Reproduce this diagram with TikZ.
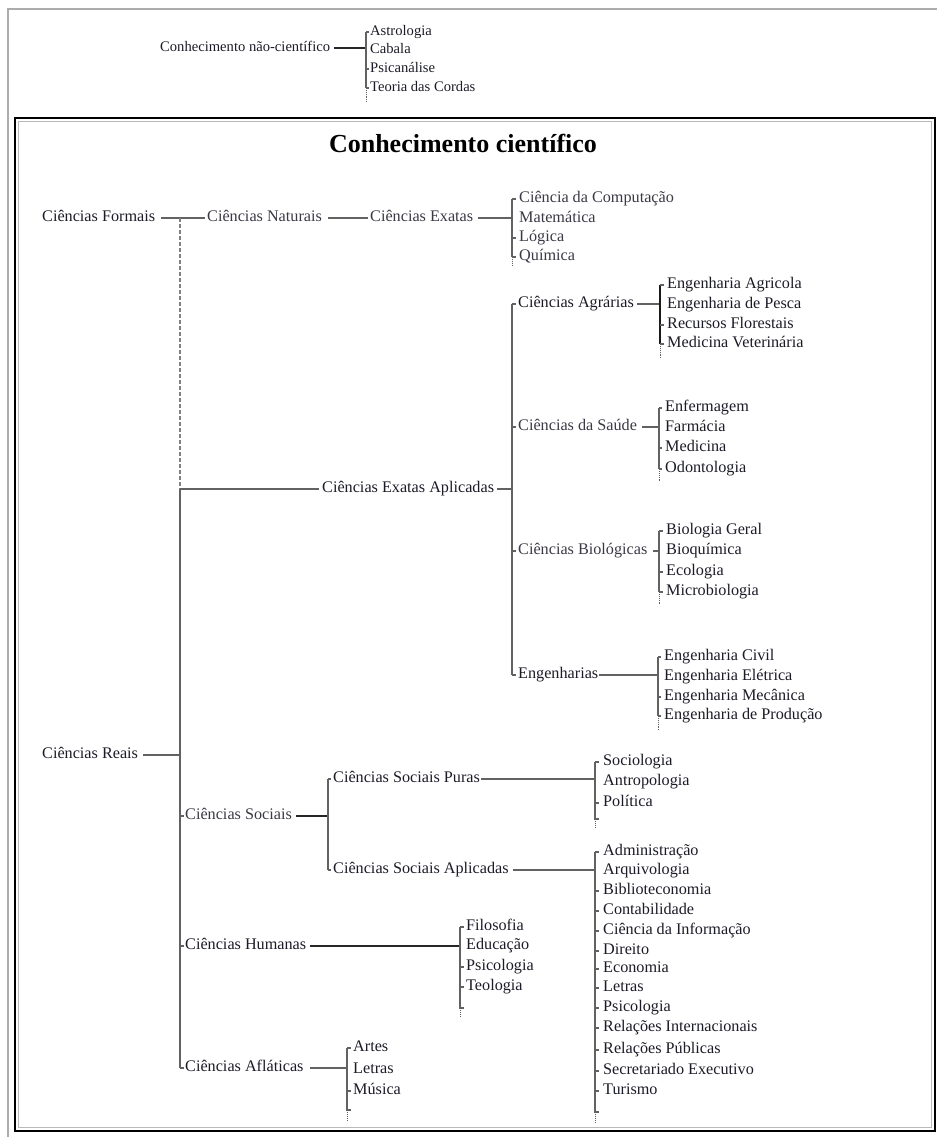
\documentclass[tikz,border=0pt]{standalone}
\usepackage{fontspec}
\setmainfont{Liberation Serif}
\definecolor{ink}{HTML}{1C1C28}
\definecolor{soft}{HTML}{3A3A46}
\definecolor{linegray}{HTML}{626262}
% short ticks from a bracket line to each of its item nodes
\newcommand\twig[3]{%
  \foreach \n in {#2} \draw[brace] (#1 |- \n.west) -- ([xshift=-#3]\n.west);}
\begin{document}
\begin{tikzpicture}[x=1pt,y=-1pt,
  lbl/.style={anchor=west,inner sep=0pt,text height=10.5pt,text depth=3pt,
    font=\fontsize{16.2}{18}\selectfont,text=ink},
  lite/.style={lbl,text=soft},
  small/.style={lbl,font=\fontsize{14.6}{17}\selectfont,text height=9.5pt},
  link/.style={draw=linegray,line width=1.1pt},
  heavy/.style={draw=black!85,line width=2pt},
  brace/.style={draw=linegray,line width=1.1pt},
  darkbrace/.style={draw=black!90,line width=1.4pt},
  tail/.style={draw=linegray,line width=0.9pt,densely dotted},
  spinedash/.style={draw=linegray!80,line width=1.1pt,dash pattern=on 4pt off 2pt}]
\useasboundingbox (0,0) rectangle (937,1137);
\fill[white] (0,0) rectangle (937,1137);

% frames
\draw[gray!65,line width=1.5pt] (8,1137) -- (8,9) -- (937,9);
\draw[black,line width=2.6pt] (15,118) rectangle (935,1131);
\draw[gray!55,line width=0.8pt] (18.5,121.5) rectangle (931.5,1127.5);

% ---------- non-scientific knowledge ----------
\node[small] (nc) at (160,48) {Conhecimento não-científico};
\coordinate (bN) at (366,48);
\draw[heavy] ([xshift=4pt]nc.east) -- (bN |- nc.east);
\node[small] (n1) at (370,32) {Astrologia};
\node[small] (n2) at (370,50) {Cabala};
\node[small] (n3) at (370,69) {Psicanálise};
\node[small] (n4) at (370,88) {Teoria das Cordas};
\draw[brace] (bN |- n1.west) -- (bN |- n4.west);
\draw[tail] (bN |- n4.west) -- ++(0,14);
\twig{bN}{n1,n3,n4}{1.5pt}

% ---------- scientific knowledge ----------
\node[font=\bfseries\fontsize{26}{30}\selectfont,text=black,inner sep=0pt] (title) at (463,143) {Conhecimento científico};

% first row
\node[lbl] (form) at (42,218) {Ciências Formais};
\node[lite] (nat) at (207,218) {Ciências Naturais};
\node[lite] (exa) at (370,218) {Ciências Exatas};
\draw[link] ([xshift=6pt]form.east) -- ([xshift=-2pt]nat.west);
\draw[link] ([xshift=6pt]nat.east) -- ([xshift=-2pt]exa.west);
\coordinate (bE) at (512,218);
\draw[link] ([xshift=5pt]exa.east) -- (bE |- exa.east);
\node[lite] (cc)  at (519,199) {Ciência da Computação};
\node[lite] (mat) at (519,219) {Matemática};
\node[lite] (log) at (519,238) {Lógica};
\node[lite] (qui) at (519,257) {Química};
\draw[brace] (bE |- cc.west) -- (bE |- qui.west);
\draw[tail] (bE |- qui.west) -- ++(0,9);
\twig{bE}{cc,log,qui}{3pt}

% main spine
\coordinate (sp0) at (180,218);
\coordinate (sp1) at (180,489);
\coordinate (sp2) at (180,1068);
\draw[spinedash] (sp0) -- (sp1);
\draw[link] (sp1) -- (sp2);
\node[lbl] (reais) at (42,755) {Ciências Reais};
\draw[link] ([xshift=5pt]reais.east) -- (sp0 |- reais.west);

% applied exact sciences
\node[lbl] (eap) at (322,489) {Ciências Exatas Aplicadas};
\draw[link] (sp1) -- ([xshift=-3pt]eap.west);
\coordinate (bA) at (512,489);
\draw[link] ([xshift=3pt]eap.east) -- (bA |- eap.east);
\node[lbl] (agr) at (518,304) {Ciências Agrárias};
\node[lite] (sau) at (518,427) {Ciências da Saúde};
\node[lite] (bio) at (518,551) {Ciências Biológicas};
\node[lbl] (eng) at (518,675) {Engenharias};
\draw[brace] (bA |- agr.west) -- (bA |- eng.west);
\twig{bA}{agr,sau,bio,eng}{2pt}

% agrarian sciences
\coordinate (bG) at (660,304);
\draw[link] ([xshift=3pt]agr.east) -- (bG |- agr.east);
\node[lbl] (g1) at (667,285) {Engenharia Agricola};
\node[lbl] (g2) at (667,305) {Engenharia de Pesca};
\node[lbl] (g3) at (667,325) {Recursos Florestais};
\node[lbl] (g4) at (667,344) {Medicina Veterinária};
\draw[darkbrace] (bG |- g1.west) -- (bG |- g4.west);
\draw[tail] (bG |- g4.west) -- ++(0,14);
\twig{bG}{g1,g3,g4}{3pt}

% health sciences
\coordinate (bS) at (659,427);
\draw[link] ([xshift=5pt]sau.east) -- (bS |- sau.east);
\node[lbl] (s1) at (665,408) {Enfermagem};
\node[lbl] (s2) at (665,428) {Farmácia};
\node[lbl] (s3) at (665,448) {Medicina};
\node[lbl] (s4) at (665,469) {Odontologia};
\draw[brace] (bS |- s1.west) -- (bS |- s4.west);
\draw[tail] (bS |- s4.west) -- ++(0,12);
\twig{bS}{s1,s3,s4}{3pt}

% biological sciences
\coordinate (bB) at (659,551);
\draw[link] ([xshift=5pt]bio.east) -- (bB |- bio.east);
\node[lbl] (b1) at (666,531) {Biologia Geral};
\node[lbl] (b2) at (666,551) {Bioquímica};
\node[lbl] (b3) at (666,572) {Ecologia};
\node[lbl] (b4) at (666,592) {Microbiologia};
\draw[brace] (bB |- b1.west) -- (bB |- b4.west);
\draw[tail] (bB |- b4.west) -- ++(0,12);
\twig{bB}{b1,b3,b4}{3pt}

% engineering
\coordinate (bR) at (658,675);
\draw[link] ([xshift=1pt]eng.east) -- (bR |- eng.east);
\node[lbl] (e1) at (664,657) {Engenharia Civil};
\node[lbl] (e2) at (664,677) {Engenharia Elétrica};
\node[lbl] (e3) at (664,697) {Engenharia Mecânica};
\node[lbl] (e4) at (664,716) {Engenharia de Produção};
\draw[brace] (bR |- e1.west) -- (bR |- e4.west);
\draw[tail] (bR |- e4.west) -- ++(0,14);
\twig{bR}{e1,e3,e4}{3pt}

% social sciences
\node[lite] (soc) at (185,816) {Ciências Sociais};
\draw[brace] (sp0 |- soc.west) -- ([xshift=-1pt]soc.west);
\coordinate (bC) at (328,816);
\draw[heavy] ([xshift=4pt]soc.east) -- (bC |- soc.east);
\node[lbl] (scp) at (333,779) {Ciências Sociais Puras};
\node[lbl] (sca) at (333,870) {Ciências Sociais Aplicadas};
\draw[brace] (bC |- scp.west) -- (bC |- sca.west);
\twig{bC}{scp,sca}{2pt}

\coordinate (bP) at (595,779);
\draw[link] ([xshift=1pt]scp.east) -- (bP |- scp.east);
\node[lbl] (p1) at (603,762) {Sociologia};
\node[lbl] (p2) at (603,782) {Antropologia};
\node[lbl] (p3) at (603,803) {Política};
\coordinate (pEnd) at (595,819);
\draw[brace] (bP |- p1.west) -- (pEnd) -- ++(4,0);
\draw[tail] (pEnd) -- ++(0,9);
\twig{bP}{p1,p3}{4pt}

\coordinate (bQ) at (595,870);
\draw[link] ([xshift=4pt]sca.east) -- (bQ |- sca.east);
\node[lbl] (q1)  at (603,852)  {Administração};
\node[lbl] (q2)  at (603,871)  {Arquivologia};
\node[lbl] (q3)  at (603,891)  {Biblioteconomia};
\node[lbl] (q4)  at (603,911)  {Contabilidade};
\node[lbl] (q5)  at (603,931)  {Ciência da Informação};
\node[lbl] (q6)  at (603,951)  {Direito};
\node[lbl] (q7)  at (603,969)  {Economia};
\node[lbl] (q8)  at (603,988)  {Letras};
\node[lbl] (q9)  at (603,1008) {Psicologia};
\node[lbl] (q10) at (603,1028) {Relações Internacionais};
\node[lbl] (q11) at (603,1050) {Relações Públicas};
\node[lbl] (q12) at (603,1071) {Secretariado Executivo};
\node[lbl] (q13) at (603,1091) {Turismo};
\coordinate (qEnd) at (595,1112);
\draw[brace] (bQ |- q1.west) -- (qEnd) -- ++(4,0);
\draw[tail] (qEnd) -- ++(0,10);
\twig{bQ}{q1,q3,q4,q5,q6,q7,q8,q9,q10,q11,q12,q13}{4pt}

% human sciences
\node[lbl] (hum) at (185,946) {Ciências Humanas};
\draw[brace] (sp0 |- hum.west) -- ([xshift=-1pt]hum.west);
\coordinate (bH) at (460,946);
\draw[heavy] ([xshift=4pt]hum.east) -- (bH |- hum.east);
\node[lbl] (h1) at (466,927) {Filosofia};
\node[lbl] (h2) at (466,946) {Educação};
\node[lbl] (h3) at (466,967) {Psicologia};
\node[lbl] (h4) at (466,987) {Teologia};
\coordinate (hEnd) at (460,1008);
\draw[brace] (bH |- h1.west) -- (hEnd) -- ++(4,0);
\draw[tail] (hEnd) -- ++(0,8);
\twig{bH}{h1,h3,h4}{2pt}

% aflatic sciences
\node[lbl] (afl) at (185,1068) {Ciências Afláticas};
\draw[brace] (sp2) -- ([xshift=-1pt]afl.west);
\coordinate (bF) at (347,1068);
\draw[link] ([xshift=6pt]afl.east) -- (bF |- afl.east);
\node[lbl] (f1) at (353,1048) {Artes};
\node[lbl] (f2) at (353,1070) {Letras};
\node[lbl] (f3) at (353,1091) {Música};
\coordinate (fEnd) at (347,1110);
\draw[brace] (bF |- f1.west) -- (fEnd) -- ++(4,0);
\draw[tail] (fEnd) -- ++(0,10);
\twig{bF}{f1,f3}{2pt}
\end{tikzpicture}
\end{document}
